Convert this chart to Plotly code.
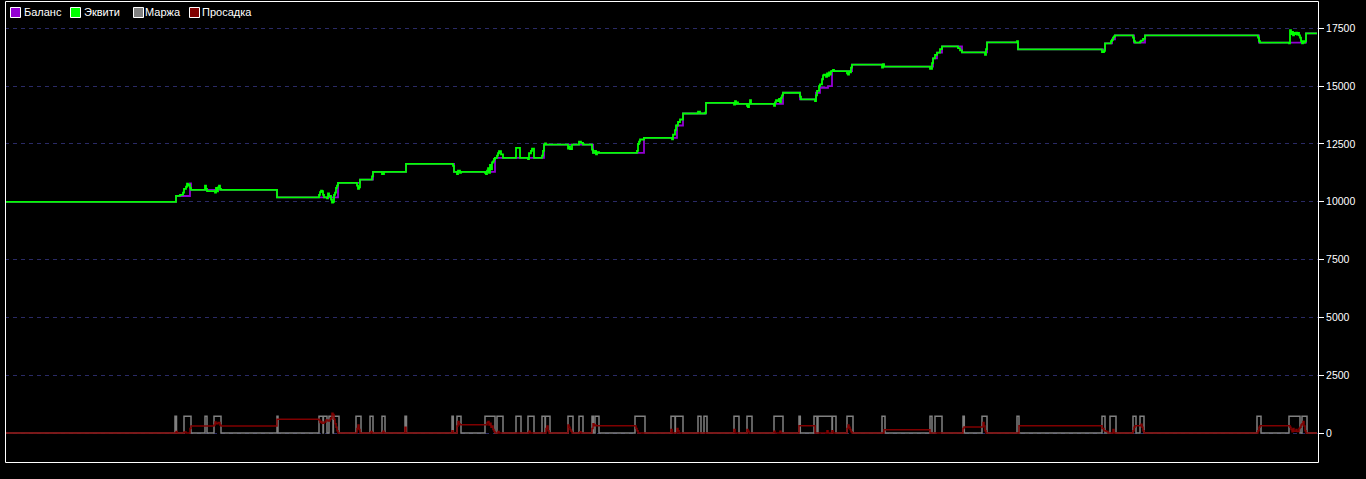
import plotly.graph_objects as go

# ---------------- data (x = deal/time position, y = account value) ----------------
balance_x = [6, 176, 190, 191, 277, 338, 360, 373, 406, 454, 495, 544, 593, 644, 677, 683, 706, 736,
             783, 800, 816, 820, 828, 832, 852, 884, 933, 937, 942, 962, 987, 1018, 1105, 1112, 1115,
             1134, 1145, 1259, 1306, 1317]
balance_y = [10000, 10250, 10790, 10514, 10195, 10817, 10960, 11293, 11640, 11293, 11900, 12476, 12117,
             12766, 13300, 13819, 14282, 14239, 14716, 14426, 14716, 14932, 15000, 15651, 15928, 15842,
             16200, 16450, 16720, 16462, 16895, 16591, 16851, 17024, 17198, 16882, 17198, 16882, 17284,
             17284]

equity_x = [6, 176, 180, 183, 184, 186, 187, 188, 189, 190, 191, 205, 206, 207, 215, 216, 217, 218, 219,
            220, 221, 277, 319, 320, 321, 322, 323, 324, 327, 328, 329, 331, 332, 333, 334, 335, 336, 337,
            338, 357, 358, 359, 360, 372, 373, 382, 384, 406, 453, 454, 457, 458, 460, 461, 485, 486, 487,
            488, 489, 490, 491, 492, 493, 494, 495, 497, 498, 499, 501, 503, 516, 520, 528, 529, 531, 532,
            534, 542, 543, 544, 545, 546, 568, 569, 570, 572, 579, 581, 583, 592, 593, 595, 596, 597, 599,
            637, 638, 639, 640, 644, 672, 673, 675, 676, 678, 680, 683, 698, 700, 705, 706, 734, 735, 736,
            737, 738, 747, 748, 749, 750, 751, 774, 775, 776, 778, 779, 780, 781, 782, 783, 800, 801, 815,
            816, 817, 819, 820, 822, 823, 824, 826, 827, 828, 829, 830, 831, 833, 834, 847, 848, 849, 850,
            851, 852, 882, 883, 884, 930, 932, 933, 935, 937, 940, 942, 958, 960, 962, 985, 986, 987, 1017,
            1018, 1102, 1104, 1105, 1111, 1112, 1113, 1114, 1115, 1133, 1134, 1135, 1140, 1141, 1143, 1145,
            1258, 1259, 1260, 1289, 1290, 1291, 1292, 1293, 1294, 1295, 1296, 1297, 1298, 1299, 1300, 1301,
            1302, 1303, 1304, 1305, 1306, 1317]
equity_y = [10000, 10254, 10300, 10400, 10560, 10650, 10787, 10700, 10740, 10600, 10514, 10700, 10560,
            10460, 10400, 10600, 10450, 10620, 10700, 10560, 10514, 10195, 10300, 10420, 10480, 10460,
            10300, 10195, 10150, 10360, 10250, 10100, 9960, 10000, 10300, 10400, 10600, 10700, 10817,
            10700, 10560, 10620, 10960, 11100, 11293, 11200, 11293, 11640, 11550, 11293, 11200, 11350,
            11250, 11293, 11250, 11200, 11350, 11450, 11250, 11600, 11400, 11700, 11750, 11850, 11900,
            12000, 12100, 12186, 12050, 11900, 12333, 11900, 11850, 12100, 12200, 12300, 11900, 12000,
            12200, 12476, 12530, 12476, 12300, 12400, 12280, 12476, 12600, 12550, 12476, 12260, 12117,
            12200, 12050, 12150, 12117, 12200, 12500, 12600, 12693, 12766, 12700, 12909, 13100, 13300,
            13450, 13560, 13819, 13900, 13819, 13850, 14282, 14200, 14350, 14239, 14300, 14239, 14150,
            14100, 14239, 14400, 14239, 14150, 14300, 14400, 14350, 14450, 14300, 14500, 14600, 14716,
            14550, 14426, 14350, 14600, 14800, 15000, 15075, 15300, 15465, 15500, 15400, 15550, 15450,
            15600, 15500, 15651, 15700, 15651, 15550, 15500, 15650, 15600, 15800, 15928, 15800, 15950,
            15842, 15750, 16000, 16200, 16350, 16450, 16600, 16720, 16650, 16550, 16462, 16350, 16600,
            16895, 16950, 16591, 16470, 16530, 16851, 16950, 17000, 17100, 17150, 17198, 17100, 16950,
            16882, 16930, 16970, 17050, 17198, 17100, 16950, 16882, 16850, 17420, 17250, 17350, 17200,
            17300, 17250, 17320, 17230, 17300, 17200, 17100, 16950, 16850, 16950, 16880, 16950, 17284,
            17284]

# margin: open/close positions of each position-holding interval
margin_open = [175, 184, 205, 214, 277, 319, 323.4, 329, 333.4, 356, 370, 382, 405, 452, 457, 485, 497,
               516, 528, 542, 545.4, 568, 579, 592, 595, 635, 671, 675.4, 698, 704, 734, 747, 774, 799,
               814, 818, 832.4, 847, 882, 930, 935, 963, 982, 1017, 1102, 1110, 1133, 1140, 1257, 1289,
               1302]
margin_close = [176.5, 191, 207, 221, 278, 323, 327, 333, 339, 361, 373, 385, 406.5, 453.3, 461, 495, 503,
                521, 534, 545, 550, 573, 583, 593.3, 599, 645, 675, 683, 701, 707, 739, 752, 783, 800.3,
                817, 832, 836, 853, 885, 932, 942, 964.3, 987, 1019, 1105, 1116, 1136, 1144, 1261, 1300,
                1307]
margin_level = 720

drawdown_x = [6, 176, 177, 184, 186, 190, 191, 214, 215, 216, 218, 220, 221, 277, 319, 320, 321, 322, 324,
              326, 328, 330, 331, 332, 333, 334, 335, 336, 337, 338, 357, 358, 359, 360, 371, 372, 383,
              384, 405, 406, 452, 453, 457, 458, 459, 460, 487, 488, 489, 490, 491, 492, 493, 494, 495,
              498, 499, 529, 530, 546, 547, 548, 549, 568, 569, 570, 571, 572, 580, 581, 592, 593, 594,
              595, 596, 635, 636, 637, 638, 671, 672, 677, 678, 679, 734, 735, 747, 748, 749, 774, 775,
              780, 781, 799, 815, 827, 828, 832, 833, 847, 848, 849, 850, 851, 852, 884, 930, 963, 964,
              982, 983, 984, 985, 986, 1019, 1102, 1104, 1106, 1108, 1113, 1114, 1133, 1134, 1135, 1141,
              1142, 1143, 1144, 1258, 1259, 1260, 1290, 1291, 1292, 1293, 1294, 1296, 1297, 1299, 1300,
              1301, 1302, 1303, 1304, 1305, 1306, 1317]
drawdown_y = [0, 60, 0, 40, 0, 200, 303, 350, 476, 400, 450, 350, 303, 600, 560, 450, 500, 420, 480,
              560, 520, 600, 650, 850, 800, 600, 400, 250, 100, 0, 200, 350, 150, 0, 60, 0, 80,
              0, 250, 0, 100, 0, 300, 500, 400, 360, 450, 500, 350, 420, 250, 300, 150, 60, 0,
              60, 0, 80, 0, 200, 300, 100, 0, 350, 250, 150, 80, 0, 50, 0, 200, 400, 316,
              350, 316, 300, 200, 100, 0, 150, 0, 200, 100, 0, 150, 0, 150, 80, 0, 80, 0,
              80, 0, 316, 0, 100, 0, 100, 0, 200, 350, 250, 150, 50, 0, 144, 0, 200, 260,
              260, 450, 300, 100, 0, 316, 200, 100, 60, 0, 150, 0, 100, 250, 316, 380,
              250, 100, 0, 100, 250, 316, 250, 150, 50, 200, 80, 150, 60, 200, 250,
              350, 400, 500, 300, 100, 0, 0]

y_ticks = [0, 2500, 5000, 7500, 10000, 12500, 15000, 17500]
legend_names = ["Баланс", "Эквити", "Маржа", "Просадка"]

# ---------------- styles ----------------
C_BAL = "#9400D3"
C_EQ = "#00FF00"
C_MAR = "#808080"
C_DD = "#800000"
W, H = 1366, 479
ML, MR, MT, MB = 5, 48, 1, 17

# margin step arrays built from intervals
mx = [6]
my = [0]
for o, c in zip(margin_open, margin_close):
    mx += [o, c]
    my += [margin_level, 0]
mx.append(1317)
my.append(0)

fig = go.Figure()
fig.add_trace(go.Scatter(x=mx, y=my, mode="lines", line=dict(color=C_MAR, width=1.5, shape="hv"),
                         name="Маржа", showlegend=False, hoverinfo="skip"))
fig.add_trace(go.Scatter(x=drawdown_x, y=drawdown_y, mode="lines",
                         line=dict(color=C_DD, width=1.5, shape="hv"), name="Просадка", showlegend=False))
fig.add_trace(go.Scatter(x=balance_x, y=balance_y, mode="lines",
                         line=dict(color=C_BAL, width=1.8, shape="hv"), name="Баланс", showlegend=False))
fig.add_trace(go.Scatter(x=equity_x, y=equity_y, mode="lines",
                         line=dict(color=C_EQ, width=1.8, shape="hv"), name="Эквити", showlegend=False))

pw = W - ML - MR
ph = H - MT - MB


def pxx(p):
    return (p - ML) / pw


def pxy(p):
    return 1 - (p - MT) / ph


shapes = [dict(type="rect", xref="paper", yref="paper", x0=pxx(5.5), y0=pxy(462.5), x1=pxx(1318.5),
               y1=pxy(1.5), line=dict(color="white", width=1), layer="above")]
annotations = []
leg_colors = [C_BAL, C_EQ, C_MAR, C_DD]
sq_x = [10, 70, 133, 189]
tx_x = [22, 82, 143, 200]
for name, col, sx, tx in zip(legend_names, leg_colors, sq_x, tx_x):
    shapes.append(dict(type="rect", xref="paper", yref="paper", x0=pxx(sx + 0.5), x1=pxx(sx + 10.5),
                       y0=pxy(17.5), y1=pxy(7.5), fillcolor=col, line=dict(color="white", width=1),
                       layer="above"))
    annotations.append(dict(xref="paper", yref="paper", x=pxx(tx), y=pxy(12), text=name,
                            showarrow=False, xanchor="left", yanchor="middle",
                            font=dict(color="white", size=11, family="Liberation Sans, Arial")))

fig.update_layout(
    width=W, height=H,
    margin=dict(l=ML, r=MR, t=MT, b=MB),
    paper_bgcolor="#000000", plot_bgcolor="#000000",
    showlegend=False,
    shapes=shapes, annotations=annotations,
    xaxis=dict(range=[5, 1318], showgrid=False, zeroline=False, showticklabels=False, ticks=""),
    yaxis=dict(range=[-1254, 18684], side="right", tickvals=y_ticks,
               ticktext=[str(v) for v in y_ticks],
               showgrid=True, gridcolor="#2a2a66", griddash="4px,4px", gridwidth=1,
               zeroline=False, ticks="outside", ticklen=5, tickcolor="white",
               tickfont=dict(color="white", size=10.5, family="Liberation Sans, Arial")),
)

fig.write_html("out.html", config={"displayModeBar": False},
               post_script="document.body.style.margin='0';document.body.style.background='#000';")
